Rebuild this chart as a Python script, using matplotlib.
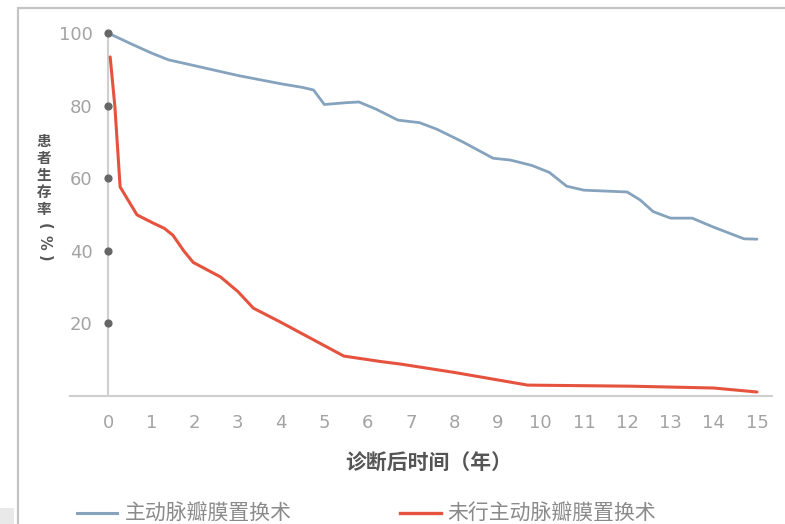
import matplotlib
matplotlib.use("Agg")
import matplotlib.pyplot as plt
from matplotlib.lines import Line2D
from matplotlib.patches import Rectangle

plt.rcParams['font.family'] = ['Noto Sans CJK SC', 'DejaVu Sans']

# ---- data ----
years_avr = [0, 0.5, 1.0, 1.4, 2.0, 3.0, 4.0, 4.5, 4.75, 5.0, 5.5, 5.8, 6.2, 6.7, 7.2,
             7.6, 8.2, 8.9, 9.3, 9.8, 10.2, 10.6, 11.0, 12.0, 12.3, 12.6, 13.0, 13.5,
             14.0, 14.7, 15.0]
surv_avr = [100, 97.2, 94.5, 92.6, 91, 88.3, 86, 85, 84.3, 80.3, 80.8, 81, 79, 76, 75.3,
            73.5, 70, 65.5, 65, 63.5, 61.6, 57.8, 56.7, 56.2, 54, 50.8, 49, 49,
            46.5, 43.3, 43.2]

years_no = [0.05, 0.16, 0.28, 0.67, 1.05, 1.3, 1.5, 1.75, 1.97, 2.6, 3.0, 3.36, 3.98,
            5.45, 6.3, 6.76, 8.0, 9.7, 12.1, 14.0, 15.0]
surv_no = [93.4, 79.6, 57.6, 49.9, 47.6, 46.2, 44.3, 40, 36.8, 32.8, 28.8, 24.2, 20.4,
           11, 9.5, 8.8, 6.5, 3.0, 2.7, 2.2, 1.1]

xticks = list(range(0, 16))
yticks = [20, 40, 60, 80, 100]
label_avr = "主动脉瓣膜置换术"
label_no = "未行主动脉瓣膜置换术"
xlabel = "诊断后时间（年）"
ylabel_chars = ["患", "者", "生", "存", "率", "(", "%", ")"]

blue = "#86a3be"
red = "#e5533e"
tick_color = "#a3a3a3"
text_color = "#555555"

W, H = 785, 524
fig = plt.figure(figsize=(W / 100, H / 100), dpi=100)

def fx(px):
    return px / W

def fy(py):
    return 1 - py / H

# frame border
fig.patches.append(Rectangle((fx(18), fy(560)), fx(800) - fx(18), fy(8) - fy(560),
                             transform=fig.transFigure, fill=False,
                             edgecolor="#c4c4c4", linewidth=1.6))
fig.patches.append(Rectangle((0, 0), fx(14), fy(508),
                             transform=fig.transFigure, facecolor="#e9e9e9",
                             edgecolor="none"))

# axes: x from px 70 to 772, y from px 18 to 396
x0_px, x15_px = 108, 757
ppy = (x15_px - x0_px) / 15.0
ax_left, ax_right = 70, 772
y0_px, y100_px = 396, 33
ppv = (y0_px - y100_px) / 100.0
ax_top = 18
ax = fig.add_axes([fx(ax_left), fy(y0_px), fx(ax_right) - fx(ax_left), fy(ax_top) - fy(y0_px)])
ax.set_xlim(-(x0_px - ax_left) / ppy, 15 + (ax_right - x15_px) / ppy)
ax.set_ylim(0, 100 + (y100_px - ax_top) / ppv)
ax.patch.set_alpha(0)

for s in ["top", "right"]:
    ax.spines[s].set_visible(False)
ax.spines["left"].set_position(("data", 0))
ax.spines["left"].set_bounds(0, 100)
ax.spines["left"].set_color("#cfcfcf")
ax.spines["left"].set_linewidth(1.5)
ax.spines["bottom"].set_color("#cfcfcf")
ax.spines["bottom"].set_linewidth(1.5)

ax.set_xticks(xticks)
ax.set_xticklabels([str(t) for t in xticks])
ax.set_yticks(yticks)
ax.set_yticklabels([str(t) for t in yticks])
ax.tick_params(axis="x", length=0, pad=13, labelsize=13, labelcolor=tick_color)
ax.tick_params(axis="y", length=0, pad=11, labelsize=13, labelcolor=tick_color)
for lab in ax.get_xticklabels() + ax.get_yticklabels():
    lab.set_family(["DejaVu Sans"])

# tick dots on the y axis
ax.scatter([0] * len(yticks), yticks, s=24, color="#666666", zorder=5, clip_on=False)

ax.plot(years_avr, surv_avr, color=blue, linewidth=2.0, solid_capstyle="round", zorder=3)
ax.plot(years_no, surv_no, color=red, linewidth=2.2, solid_capstyle="round", zorder=3)

# y label, stacked characters
ys = [141, 158, 175, 192, 209, 226, 242, 258]
for ch, yy in zip(ylabel_chars, ys):
    is_sym = ch in "(%)"
    fam = ["DejaVu Sans"] if is_sym else ["Noto Sans CJK SC", "DejaVu Sans"]
    fig.text(fx(44), fy(yy), ch, ha="center", va="center",
             fontsize=10.5 if is_sym else 10.5,
             fontweight="bold", color=text_color, rotation=-90 if is_sym else 0,
             family=fam)

# x label
fig.text(fx(429), fy(463), xlabel, ha="center", va="center", fontsize=15,
         fontweight="bold", color=text_color)

# legend
fig.lines.append(Line2D([fx(77), fx(117)], [fy(513), fy(513)], transform=fig.transFigure,
                        color=blue, linewidth=2.2))
fig.text(fx(125), fy(513), label_avr, ha="left", va="center", fontsize=15, color="#8a8a8a")
fig.lines.append(Line2D([fx(400), fx(441)], [fy(513), fy(513)], transform=fig.transFigure,
                        color=red, linewidth=2.4))
fig.text(fx(447), fy(513), label_no, ha="left", va="center", fontsize=15, color="#8a8a8a")

fig.savefig("out.png", dpi=100)
